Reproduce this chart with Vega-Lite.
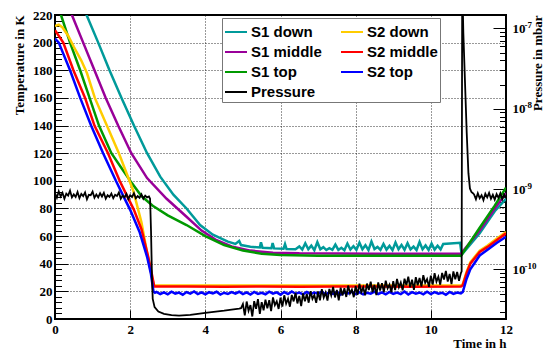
{
"$schema": "https://vega.github.io/schema/vega-lite/v6.json",
"width": 451, "height": 304,
"autosize": {"type": "none"},
"padding": {"left": 55, "top": 15, "right": 37, "bottom": 30},
"background": "white",
"config": {"view": {"stroke": "#000", "strokeWidth": 2}},
"datasets": {
"temp": [
{"s":"S1 down","t":0.70,"T":230},{"s":"S1 down","t":0.84,"T":220},{"s":"S1 down","t":1.15,"T":200},{"s":"S1 down","t":1.45,"T":180},{"s":"S1 down","t":1.77,"T":160},{"s":"S1 down","t":2.1,"T":140},{"s":"S1 down","t":2.45,"T":120},{"s":"S1 down","t":2.8,"T":103},{"s":"S1 down","t":3.15,"T":90},{"s":"S1 down","t":3.5,"T":80},{"s":"S1 down","t":3.86,"T":68},{"s":"S1 down","t":4.2,"T":61},{"s":"S1 down","t":4.6,"T":56},{"s":"S1 down","t":4.8,"T":54.3},{"s":"S1 down","t":4.9,"T":56.5},{"s":"S1 down","t":4.95,"T":53.5},{"s":"S1 down","t":5.2,"T":52.3},{"s":"S1 down","t":5.45,"T":51.8},{"s":"S1 down","t":5.48,"T":55.5},{"s":"S1 down","t":5.52,"T":51.6},{"s":"S1 down","t":5.76,"T":51.2},{"s":"S1 down","t":5.79,"T":55},{"s":"S1 down","t":5.83,"T":51.1},{"s":"S1 down","t":6.08,"T":50.8},{"s":"S1 down","t":6.12,"T":54.2},{"s":"S1 down","t":6.16,"T":50.7},{"s":"S1 down","t":6.4,"T":50.5},
{"s":"S1 down","t":6.50,"T":52.5},{"s":"S1 down","t":6.58,"T":50.2},{"s":"S1 down","t":6.66,"T":54.8},{"s":"S1 down","t":6.74,"T":50.5},{"s":"S1 down","t":6.82,"T":53.1},{"s":"S1 down","t":6.90,"T":49.8},{"s":"S1 down","t":6.98,"T":55.6},{"s":"S1 down","t":7.06,"T":50.4},{"s":"S1 down","t":7.14,"T":52.0},{"s":"S1 down","t":7.22,"T":49.9},{"s":"S1 down","t":7.30,"T":51.2},{"s":"S1 down","t":7.38,"T":50.1},{"s":"S1 down","t":7.46,"T":53.9},{"s":"S1 down","t":7.54,"T":50.0},{"s":"S1 down","t":7.62,"T":51.5},{"s":"S1 down","t":7.70,"T":49.8},{"s":"S1 down","t":7.78,"T":54.6},{"s":"S1 down","t":7.86,"T":50.3},{"s":"S1 down","t":7.94,"T":52.7},{"s":"S1 down","t":8.02,"T":50.0},{"s":"S1 down","t":8.10,"T":55.2},{"s":"S1 down","t":8.18,"T":50.4},{"s":"S1 down","t":8.26,"T":53.4},{"s":"S1 down","t":8.34,"T":49.9},{"s":"S1 down","t":8.42,"T":56.0},{"s":"S1 down","t":8.50,"T":50.6},{"s":"S1 down","t":8.58,"T":52.2},{"s":"S1 down","t":8.66,"T":50.0},{"s":"S1 down","t":8.74,"T":54.3},{"s":"S1 down","t":8.82,"T":50.2},{"s":"S1 down","t":8.90,"T":52.9},{"s":"S1 down","t":8.98,"T":49.8},{"s":"S1 down","t":9.06,"T":55.4},{"s":"S1 down","t":9.14,"T":50.5},{"s":"S1 down","t":9.22,"T":53.6},{"s":"S1 down","t":9.30,"T":50.1},{"s":"S1 down","t":9.38,"T":54.9},{"s":"S1 down","t":9.46,"T":50.3},{"s":"S1 down","t":9.54,"T":52.4},{"s":"S1 down","t":9.62,"T":49.9},{"s":"S1 down","t":9.70,"T":55.7},{"s":"S1 down","t":9.78,"T":50.4},{"s":"S1 down","t":9.86,"T":53.2},{"s":"S1 down","t":9.94,"T":50.0},{"s":"S1 down","t":10.02,"T":54.5},{"s":"S1 down","t":10.10,"T":50.2},{"s":"S1 down","t":10.18,"T":53.0},{"s":"S1 down","t":10.26,"T":50.4},{"s":"S1 down","t":10.33,"T":54.3},{"s":"S1 down","t":10.78,"T":55.2},{"s":"S1 down","t":10.82,"T":46.5},{"s":"S1 down","t":11.3,"T":62},{"s":"S1 down","t":11.7,"T":78},{"s":"S1 down","t":12,"T":87},
{"s":"S1 middle","t":0.35,"T":227},{"s":"S1 middle","t":0.45,"T":220},{"s":"S1 middle","t":0.75,"T":200},{"s":"S1 middle","t":1.05,"T":180},{"s":"S1 middle","t":1.35,"T":160},{"s":"S1 middle","t":1.68,"T":140},{"s":"S1 middle","t":2.03,"T":120},{"s":"S1 middle","t":2.45,"T":102},{"s":"S1 middle","t":2.97,"T":87},{"s":"S1 middle","t":3.5,"T":74},{"s":"S1 middle","t":3.9,"T":64},{"s":"S1 middle","t":4.3,"T":57},{"s":"S1 middle","t":4.7,"T":52.5},{"s":"S1 middle","t":5.2,"T":49.5},{"s":"S1 middle","t":5.8,"T":48},{"s":"S1 middle","t":6.5,"T":47.5},{"s":"S1 middle","t":8.5,"T":47.3},{"s":"S1 middle","t":10.8,"T":47.2},{"s":"S1 middle","t":11.3,"T":64},{"s":"S1 middle","t":11.7,"T":80},{"s":"S1 middle","t":12,"T":91},
{"s":"S1 top","t":0.05,"T":228},{"s":"S1 top","t":0.16,"T":220},{"s":"S1 top","t":0.4,"T":200},{"s":"S1 top","t":0.67,"T":180},{"s":"S1 top","t":0.92,"T":160},{"s":"S1 top","t":1.17,"T":140},{"s":"S1 top","t":1.5,"T":120},{"s":"S1 top","t":1.75,"T":110},{"s":"S1 top","t":2.0,"T":100},{"s":"S1 top","t":2.3,"T":89},{"s":"S1 top","t":2.6,"T":82},{"s":"S1 top","t":3.0,"T":75},{"s":"S1 top","t":3.5,"T":68},{"s":"S1 top","t":4.0,"T":60},{"s":"S1 top","t":4.5,"T":53.5},{"s":"S1 top","t":5.0,"T":49.5},{"s":"S1 top","t":5.5,"T":47.3},{"s":"S1 top","t":6.0,"T":46.3},{"s":"S1 top","t":7.0,"T":45.8},{"s":"S1 top","t":10.8,"T":45.7},{"s":"S1 top","t":11.3,"T":66},{"s":"S1 top","t":11.7,"T":82},{"s":"S1 top","t":12,"T":95},
{"s":"S2 down","t":0,"T":212},{"s":"S2 down","t":0.1,"T":213},{"s":"S2 down","t":0.2,"T":211},{"s":"S2 down","t":0.35,"T":205},{"s":"S2 down","t":0.5,"T":197},{"s":"S2 down","t":0.7,"T":187},{"s":"S2 down","t":0.85,"T":178},{"s":"S2 down","t":1.06,"T":160},{"s":"S2 down","t":1.38,"T":140},{"s":"S2 down","t":1.7,"T":120},{"s":"S2 down","t":2.08,"T":93},{"s":"S2 down","t":2.3,"T":70},{"s":"S2 down","t":2.47,"T":45},{"s":"S2 down","t":2.58,"T":30},{"s":"S2 down","t":2.64,"T":24.2},{"s":"S2 down","t":6,"T":24.3},{"s":"S2 down","t":10.8,"T":24.2},{"s":"S2 down","t":10.85,"T":25.2},{"s":"S2 down","t":10.95,"T":34},{"s":"S2 down","t":11.05,"T":41},{"s":"S2 down","t":11.3,"T":49.5},{"s":"S2 down","t":11.5,"T":53},{"s":"S2 down","t":11.75,"T":58},{"s":"S2 down","t":12,"T":63},
{"s":"S2 middle","t":0,"T":209},{"s":"S2 middle","t":0.22,"T":200},{"s":"S2 middle","t":0.49,"T":180},{"s":"S2 middle","t":0.8,"T":160},{"s":"S2 middle","t":1.05,"T":140},{"s":"S2 middle","t":1.41,"T":120},{"s":"S2 middle","t":1.72,"T":100},{"s":"S2 middle","t":1.9,"T":90},{"s":"S2 middle","t":2.1,"T":79},{"s":"S2 middle","t":2.3,"T":65},{"s":"S2 middle","t":2.48,"T":45},{"s":"S2 middle","t":2.58,"T":32},{"s":"S2 middle","t":2.64,"T":23.5},{"s":"S2 middle","t":3.5,"T":23.6},{"s":"S2 middle","t":4.5,"T":23.4},{"s":"S2 middle","t":5.5,"T":23.6},{"s":"S2 middle","t":6.5,"T":23.4},{"s":"S2 middle","t":7.5,"T":23.5},{"s":"S2 middle","t":8.5,"T":23.6},{"s":"S2 middle","t":9.5,"T":23.4},{"s":"S2 middle","t":10.8,"T":23.5},{"s":"S2 middle","t":10.85,"T":24.5},{"s":"S2 middle","t":10.95,"T":33},{"s":"S2 middle","t":11.05,"T":40},{"s":"S2 middle","t":11.3,"T":48.5},{"s":"S2 middle","t":11.5,"T":52},{"s":"S2 middle","t":11.75,"T":57},{"s":"S2 middle","t":12,"T":62},
{"s":"S2 top","t":0,"T":203},{"s":"S2 top","t":0.1,"T":200},{"s":"S2 top","t":0.4,"T":180},{"s":"S2 top","t":0.67,"T":160},{"s":"S2 top","t":0.96,"T":140},{"s":"S2 top","t":1.28,"T":120},{"s":"S2 top","t":1.62,"T":100},{"s":"S2 top","t":1.8,"T":90},{"s":"S2 top","t":2.0,"T":79},{"s":"S2 top","t":2.25,"T":63},{"s":"S2 top","t":2.45,"T":45},{"s":"S2 top","t":2.55,"T":33},{"s":"S2 top","t":2.62,"T":20},{"s":"S2 top","t":2.66,"T":19},
{"s":"S2 top","t":2.7,"T":19.6},{"s":"S2 top","t":2.8,"T":18.1},{"s":"S2 top","t":2.9,"T":19.3},{"s":"S2 top","t":3.0,"T":17.9},{"s":"S2 top","t":3.1,"T":19.8},{"s":"S2 top","t":3.2,"T":18.4},{"s":"S2 top","t":3.3,"T":19.1},{"s":"S2 top","t":3.4,"T":17.6},{"s":"S2 top","t":3.5,"T":19.5},{"s":"S2 top","t":3.6,"T":18.3},{"s":"S2 top","t":3.7,"T":19.9},{"s":"S2 top","t":3.8,"T":18.0},{"s":"S2 top","t":3.9,"T":19.2},{"s":"S2 top","t":4.0,"T":17.8},{"s":"S2 top","t":4.1,"T":19.4},{"s":"S2 top","t":4.2,"T":18.5},{"s":"S2 top","t":4.3,"T":19.7},{"s":"S2 top","t":4.4,"T":17.7},{"s":"S2 top","t":4.5,"T":19.0},{"s":"S2 top","t":4.6,"T":18.2},
{"s":"S2 top","t":4.7,"T":19.4},{"s":"S2 top","t":4.8,"T":18.3},{"s":"S2 top","t":4.9,"T":19.7},{"s":"S2 top","t":5.0,"T":18.0},{"s":"S2 top","t":5.1,"T":19.2},{"s":"S2 top","t":5.2,"T":17.7},{"s":"S2 top","t":5.3,"T":19.6},{"s":"S2 top","t":5.4,"T":18.2},{"s":"S2 top","t":5.5,"T":19.0},{"s":"S2 top","t":5.6,"T":17.9},{"s":"S2 top","t":5.7,"T":19.8},{"s":"S2 top","t":5.8,"T":18.4},{"s":"S2 top","t":5.9,"T":19.3},{"s":"S2 top","t":6.0,"T":17.6},{"s":"S2 top","t":6.1,"T":19.5},{"s":"S2 top","t":6.2,"T":18.1},{"s":"S2 top","t":6.3,"T":19.9},{"s":"S2 top","t":6.4,"T":18.3},{"s":"S2 top","t":6.5,"T":19.1},{"s":"S2 top","t":6.6,"T":17.8},
{"s":"S2 top","t":6.7,"T":19.5},{"s":"S2 top","t":6.8,"T":18.0},{"s":"S2 top","t":6.9,"T":19.2},{"s":"S2 top","t":7.0,"T":18.4},{"s":"S2 top","t":7.1,"T":19.8},{"s":"S2 top","t":7.2,"T":17.8},{"s":"S2 top","t":7.3,"T":19.3},{"s":"S2 top","t":7.4,"T":18.2},{"s":"S2 top","t":7.5,"T":19.6},{"s":"S2 top","t":7.6,"T":17.7},{"s":"S2 top","t":7.7,"T":19.1},{"s":"S2 top","t":7.8,"T":18.5},{"s":"S2 top","t":7.9,"T":19.7},{"s":"S2 top","t":8.0,"T":18.0},{"s":"S2 top","t":8.1,"T":19.4},{"s":"S2 top","t":8.2,"T":17.9},{"s":"S2 top","t":8.3,"T":19.0},{"s":"S2 top","t":8.4,"T":18.3},{"s":"S2 top","t":8.5,"T":19.8},{"s":"S2 top","t":8.6,"T":18.1},
{"s":"S2 top","t":8.7,"T":19.3},{"s":"S2 top","t":8.8,"T":17.8},{"s":"S2 top","t":8.9,"T":19.6},{"s":"S2 top","t":9.0,"T":18.2},{"s":"S2 top","t":9.1,"T":19.1},{"s":"S2 top","t":9.2,"T":18.0},{"s":"S2 top","t":9.3,"T":19.9},{"s":"S2 top","t":9.4,"T":17.7},{"s":"S2 top","t":9.5,"T":19.4},{"s":"S2 top","t":9.6,"T":18.4},{"s":"S2 top","t":9.7,"T":19.2},{"s":"S2 top","t":9.8,"T":17.9},{"s":"S2 top","t":9.9,"T":19.7},{"s":"S2 top","t":10.0,"T":18.1},{"s":"S2 top","t":10.1,"T":19.5},{"s":"S2 top","t":10.2,"T":18.3},{"s":"S2 top","t":10.3,"T":19.0},{"s":"S2 top","t":10.4,"T":17.6},{"s":"S2 top","t":10.5,"T":19.6},{"s":"S2 top","t":10.6,"T":18.2},{"s":"S2 top","t":10.7,"T":19.2},{"s":"S2 top","t":10.8,"T":18.6},
{"s":"S2 top","t":10.85,"T":19.5},{"s":"S2 top","t":10.95,"T":29},{"s":"S2 top","t":11.05,"T":36},{"s":"S2 top","t":11.3,"T":46},{"s":"S2 top","t":11.5,"T":50},{"s":"S2 top","t":11.75,"T":55},{"s":"S2 top","t":12,"T":59.5}
],
"pres": [
{"s":"Pressure","t":0.00,"p":8.9e-10},{"s":"Pressure","t":0.05,"p":7.8e-10},{"s":"Pressure","t":0.10,"p":9.4e-10},{"s":"Pressure","t":0.15,"p":8.1e-10},{"s":"Pressure","t":0.20,"p":9.0e-10},{"s":"Pressure","t":0.25,"p":7.6e-10},{"s":"Pressure","t":0.30,"p":8.8e-10},{"s":"Pressure","t":0.35,"p":8.3e-10},{"s":"Pressure","t":0.40,"p":9.6e-10},{"s":"Pressure","t":0.45,"p":7.9e-10},{"s":"Pressure","t":0.50,"p":8.6e-10},{"s":"Pressure","t":0.55,"p":8.0e-10},{"s":"Pressure","t":0.60,"p":9.2e-10},{"s":"Pressure","t":0.65,"p":7.7e-10},{"s":"Pressure","t":0.70,"p":8.7e-10},{"s":"Pressure","t":0.75,"p":8.2e-10},{"s":"Pressure","t":0.80,"p":9.1e-10},{"s":"Pressure","t":0.85,"p":7.5e-10},{"s":"Pressure","t":0.90,"p":8.5e-10},{"s":"Pressure","t":0.95,"p":8.4e-10},{"s":"Pressure","t":1.00,"p":9.3e-10},{"s":"Pressure","t":1.05,"p":7.8e-10},{"s":"Pressure","t":1.10,"p":8.6e-10},{"s":"Pressure","t":1.15,"p":7.9e-10},{"s":"Pressure","t":1.20,"p":8.9e-10},{"s":"Pressure","t":1.25,"p":8.1e-10},{"s":"Pressure","t":1.30,"p":9.0e-10},{"s":"Pressure","t":1.35,"p":7.6e-10},{"s":"Pressure","t":1.40,"p":8.4e-10},{"s":"Pressure","t":1.45,"p":8.0e-10},{"s":"Pressure","t":1.50,"p":8.8e-10},{"s":"Pressure","t":1.55,"p":7.7e-10},{"s":"Pressure","t":1.60,"p":8.5e-10},{"s":"Pressure","t":1.65,"p":8.2e-10},{"s":"Pressure","t":1.70,"p":9.1e-10},{"s":"Pressure","t":1.75,"p":7.6e-10},{"s":"Pressure","t":1.80,"p":8.3e-10},{"s":"Pressure","t":1.85,"p":7.9e-10},{"s":"Pressure","t":1.90,"p":8.7e-10},{"s":"Pressure","t":1.95,"p":7.5e-10},{"s":"Pressure","t":2.00,"p":8.4e-10},{"s":"Pressure","t":2.05,"p":8.0e-10},{"s":"Pressure","t":2.10,"p":8.9e-10},{"s":"Pressure","t":2.15,"p":7.7e-10},{"s":"Pressure","t":2.20,"p":8.2e-10},{"s":"Pressure","t":2.25,"p":7.8e-10},{"s":"Pressure","t":2.30,"p":8.6e-10},{"s":"Pressure","t":2.35,"p":7.6e-10},{"s":"Pressure","t":2.40,"p":8.3e-10},{"s":"Pressure","t":2.45,"p":7.9e-10},{"s":"Pressure","t":2.50,"p":8.1e-10},
{"s":"Pressure","t":2.53,"p":7.6e-10},{"s":"Pressure","t":2.555,"p":3.0e-10},{"s":"Pressure","t":2.58,"p":8.0e-11},{"s":"Pressure","t":2.60,"p":4.3e-11},{"s":"Pressure","t":2.65,"p":3.4e-11},{"s":"Pressure","t":2.75,"p":3.0e-11},{"s":"Pressure","t":2.9,"p":2.8e-11},{"s":"Pressure","t":3.1,"p":2.7e-11},{"s":"Pressure","t":3.3,"p":2.67e-11},{"s":"Pressure","t":3.6,"p":2.72e-11},{"s":"Pressure","t":4.0,"p":2.89e-11},{"s":"Pressure","t":4.5,"p":3.07e-11},{"s":"Pressure","t":4.9,"p":3.26e-11},
{"s":"Pressure","t":4.95,"p":3.30e-11},{"s":"Pressure","t":5.00,"p":3.72e-11},{"s":"Pressure","t":5.05,"p":2.68e-11},{"s":"Pressure","t":5.10,"p":3.99e-11},{"s":"Pressure","t":5.15,"p":3.07e-11},{"s":"Pressure","t":5.20,"p":3.61e-11},{"s":"Pressure","t":5.25,"p":2.60e-11},{"s":"Pressure","t":5.30,"p":4.03e-11},{"s":"Pressure","t":5.35,"p":3.25e-11},{"s":"Pressure","t":5.40,"p":4.27e-11},{"s":"Pressure","t":5.45,"p":2.81e-11},{"s":"Pressure","t":5.50,"p":3.92e-11},{"s":"Pressure","t":5.55,"p":3.11e-11},{"s":"Pressure","t":5.60,"p":4.22e-11},{"s":"Pressure","t":5.65,"p":3.28e-11},{"s":"Pressure","t":5.70,"p":4.15e-11},{"s":"Pressure","t":5.75,"p":3.04e-11},{"s":"Pressure","t":5.80,"p":4.49e-11},{"s":"Pressure","t":5.85,"p":3.60e-11},{"s":"Pressure","t":5.90,"p":4.02e-11},{"s":"Pressure","t":5.95,"p":3.23e-11},{"s":"Pressure","t":6.00,"p":4.45e-11},{"s":"Pressure","t":6.05,"p":3.45e-11},{"s":"Pressure","t":6.10,"p":4.77e-11},{"s":"Pressure","t":6.15,"p":3.75e-11},{"s":"Pressure","t":6.20,"p":4.32e-11},{"s":"Pressure","t":6.25,"p":3.44e-11},{"s":"Pressure","t":6.30,"p":4.82e-11},{"s":"Pressure","t":6.35,"p":4.01e-11},{"s":"Pressure","t":6.40,"p":5.11e-11},{"s":"Pressure","t":6.45,"p":3.78e-11},{"s":"Pressure","t":6.50,"p":4.69e-11},{"s":"Pressure","t":6.55,"p":3.50e-11},{"s":"Pressure","t":6.60,"p":5.04e-11},{"s":"Pressure","t":6.65,"p":4.01e-11},{"s":"Pressure","t":6.70,"p":4.95e-11},{"s":"Pressure","t":6.75,"p":3.86e-11},{"s":"Pressure","t":6.80,"p":5.36e-11},{"s":"Pressure","t":6.85,"p":4.30e-11},{"s":"Pressure","t":6.90,"p":4.80e-11},{"s":"Pressure","t":6.95,"p":3.85e-11},{"s":"Pressure","t":7.00,"p":5.32e-11},{"s":"Pressure","t":7.05,"p":4.12e-11},{"s":"Pressure","t":7.10,"p":5.70e-11},{"s":"Pressure","t":7.15,"p":4.48e-11},{"s":"Pressure","t":7.20,"p":5.16e-11},{"s":"Pressure","t":7.25,"p":4.11e-11},{"s":"Pressure","t":7.30,"p":5.73e-11},{"s":"Pressure","t":7.35,"p":4.77e-11},{"s":"Pressure","t":7.40,"p":6.07e-11},{"s":"Pressure","t":7.45,"p":4.49e-11},{"s":"Pressure","t":7.50,"p":5.55e-11},{"s":"Pressure","t":7.55,"p":4.14e-11},{"s":"Pressure","t":7.60,"p":5.95e-11},{"s":"Pressure","t":7.65,"p":4.74e-11},{"s":"Pressure","t":7.70,"p":5.84e-11},{"s":"Pressure","t":7.75,"p":4.55e-11},{"s":"Pressure","t":7.80,"p":6.31e-11},{"s":"Pressure","t":7.85,"p":5.05e-11},{"s":"Pressure","t":7.90,"p":5.63e-11},{"s":"Pressure","t":7.95,"p":4.52e-11},{"s":"Pressure","t":8.00,"p":6.23e-11},{"s":"Pressure","t":8.05,"p":4.82e-11},{"s":"Pressure","t":8.10,"p":6.66e-11},{"s":"Pressure","t":8.15,"p":5.23e-11},{"s":"Pressure","t":8.20,"p":6.01e-11},{"s":"Pressure","t":8.25,"p":4.78e-11},{"s":"Pressure","t":8.30,"p":6.67e-11},{"s":"Pressure","t":8.35,"p":5.55e-11},{"s":"Pressure","t":8.40,"p":7.06e-11},{"s":"Pressure","t":8.45,"p":5.21e-11},{"s":"Pressure","t":8.50,"p":6.44e-11},{"s":"Pressure","t":8.55,"p":4.80e-11},{"s":"Pressure","t":8.60,"p":6.89e-11},{"s":"Pressure","t":8.65,"p":5.47e-11},{"s":"Pressure","t":8.70,"p":6.74e-11},{"s":"Pressure","t":8.75,"p":5.24e-11},{"s":"Pressure","t":8.80,"p":7.27e-11},{"s":"Pressure","t":8.85,"p":5.81e-11},{"s":"Pressure","t":8.90,"p":6.48e-11},{"s":"Pressure","t":8.95,"p":5.20e-11},{"s":"Pressure","t":9.00,"p":7.15e-11},{"s":"Pressure","t":9.05,"p":5.53e-11},{"s":"Pressure","t":9.10,"p":7.65e-11},{"s":"Pressure","t":9.15,"p":6.01e-11},{"s":"Pressure","t":9.20,"p":6.90e-11},{"s":"Pressure","t":9.25,"p":5.49e-11},{"s":"Pressure","t":9.30,"p":7.67e-11},{"s":"Pressure","t":9.35,"p":6.38e-11},{"s":"Pressure","t":9.40,"p":8.12e-11},{"s":"Pressure","t":9.45,"p":6.00e-11},{"s":"Pressure","t":9.50,"p":7.47e-11},{"s":"Pressure","t":9.55,"p":5.58e-11},{"s":"Pressure","t":9.60,"p":8.01e-11},{"s":"Pressure","t":9.65,"p":6.37e-11},{"s":"Pressure","t":9.70,"p":7.85e-11},{"s":"Pressure","t":9.75,"p":6.12e-11},{"s":"Pressure","t":9.80,"p":8.48e-11},{"s":"Pressure","t":9.85,"p":6.80e-11},{"s":"Pressure","t":9.90,"p":7.59e-11},{"s":"Pressure","t":9.95,"p":6.08e-11},{"s":"Pressure","t":10.00,"p":8.38e-11},{"s":"Pressure","t":10.05,"p":6.48e-11},{"s":"Pressure","t":10.10,"p":8.98e-11},{"s":"Pressure","t":10.15,"p":7.06e-11},{"s":"Pressure","t":10.20,"p":8.12e-11},{"s":"Pressure","t":10.25,"p":6.47e-11},{"s":"Pressure","t":10.30,"p":9.04e-11},{"s":"Pressure","t":10.35,"p":7.52e-11},{"s":"Pressure","t":10.40,"p":9.58e-11},{"s":"Pressure","t":10.45,"p":7.08e-11},{"s":"Pressure","t":10.50,"p":8.82e-11},{"s":"Pressure","t":10.55,"p":6.59e-11},{"s":"Pressure","t":10.60,"p":9.47e-11},{"s":"Pressure","t":10.65,"p":7.54e-11},{"s":"Pressure","t":10.70,"p":9.30e-11},{"s":"Pressure","t":10.75,"p":7.24e-11},{"s":"Pressure","t":10.80,"p":9.03e-11},
{"s":"Pressure","t":10.82,"p":9.5e-11},{"s":"Pressure","t":10.835,"p":4.0e-7},{"s":"Pressure","t":10.865,"p":8.8e-8},{"s":"Pressure","t":10.91,"p":2.08e-8},{"s":"Pressure","t":10.955,"p":5.0e-9},{"s":"Pressure","t":11.0,"p":1.58e-9},{"s":"Pressure","t":11.04,"p":1.02e-9},{"s":"Pressure","t":11.08,"p":9.2e-10},{"s":"Pressure","t":11.12,"p":8.9e-10},
{"s":"Pressure","t":11.15,"p":8.6e-10},{"s":"Pressure","t":11.20,"p":7.5e-10},{"s":"Pressure","t":11.25,"p":8.9e-10},{"s":"Pressure","t":11.30,"p":7.7e-10},{"s":"Pressure","t":11.35,"p":8.4e-10},{"s":"Pressure","t":11.40,"p":7.3e-10},{"s":"Pressure","t":11.45,"p":8.8e-10},{"s":"Pressure","t":11.50,"p":7.9e-10},{"s":"Pressure","t":11.55,"p":9.0e-10},{"s":"Pressure","t":11.60,"p":7.6e-10},{"s":"Pressure","t":11.65,"p":8.5e-10},{"s":"Pressure","t":11.70,"p":7.4e-10},{"s":"Pressure","t":11.75,"p":8.7e-10},{"s":"Pressure","t":11.80,"p":7.8e-10},{"s":"Pressure","t":11.85,"p":8.9e-10},{"s":"Pressure","t":11.90,"p":7.5e-10},{"s":"Pressure","t":11.95,"p":8.6e-10},{"s":"Pressure","t":12.00,"p":7.9e-10}
]
},
"layer": [
{
"data": {"name": "temp"},
"mark": {"type": "line", "clip": true, "strokeWidth": 2.5},
"encoding": {
"x": {"field": "t", "type": "quantitative", "scale": {"domain": [0, 12], "nice": false, "zero": false},
 "axis": {"values": [0,0.5,1,1.5,2,2.5,3,3.5,4,4.5,5,5.5,6,6.5,7,7.5,8,8.5,9,9.5,10,10.5,11,11.5,12],
  "labelExpr": "datum.value % 2 == 0 ? datum.label : ''",
  "labelOverlap": false, "labelBound": false, "labelFlush": false,
  "tickSize": {"condition": {"test": "datum.value % 2 == 0", "value": -9}, "value": -4.5},
  "tickColor": "#000", "tickWidth": 1, "domain": false,
  "grid": true, "gridColor": "#000", "gridDash": [1, 2], "gridWidth": 1,
  "gridOpacity": {"condition": {"test": "datum.value % 2 == 0 && datum.value > 0 && datum.value < 12", "value": 0.8}, "value": 0},
  "labelFont": "Liberation Serif", "labelFontWeight": "bold", "labelFontSize": 13, "labelColor": "#000", "labelPadding": 13,
  "title": "Time in h", "titleFont": "Liberation Serif", "titleFontWeight": "bold", "titleFontSize": 13, "titleColor": "#000",
  "titleX": 451, "titleY": 24, "titleAlign": "right", "titleBaseline": "middle", "titleAnchor": "end"}},
"y": {"field": "T", "type": "quantitative", "scale": {"domain": [0, 220], "nice": false, "zero": false},
 "axis": {"values": [0,4,8,12,16,20,24,28,32,36,40,44,48,52,56,60,64,68,72,76,80,84,88,92,96,100,104,108,112,116,120,124,128,132,136,140,144,148,152,156,160,164,168,172,176,180,184,188,192,196,200,204,208,212,216,220],
  "labelExpr": "datum.value % 20 == 0 ? datum.label : ''",
  "labelOverlap": false, "labelBound": false, "labelFlush": false,
  "tickSize": {"condition": {"test": "datum.value % 20 == 0", "value": -13}, "value": -6.5},
  "tickColor": "#000", "tickWidth": 1, "domain": false,
  "grid": true, "gridColor": "#000", "gridDash": [1, 2], "gridWidth": 1,
  "gridOpacity": {"condition": {"test": "datum.value % 20 == 0 && datum.value > 0 && datum.value < 220", "value": 0.8}, "value": 0},
  "labelFont": "Liberation Serif", "labelFontWeight": "bold", "labelFontSize": 13, "labelColor": "#000", "labelPadding": 16,
  "title": "Temperature in K", "titleFont": "Liberation Serif", "titleFontWeight": "bold", "titleFontSize": 13, "titleColor": "#000",
  "titleAngle": 270, "titleX": -36, "titleY": 0, "titleAlign": "right", "titleBaseline": "middle"}},
"color": {"field": "s", "type": "nominal",
 "scale": {"domain": ["S1 down","S1 middle","S1 top","Pressure","S2 down","S2 middle","S2 top"],
           "range": ["#009a9a","#990099","#009900","#000000","#ffcc00","#ff0000","#0000ff"]},
 "legend": {"title": null, "orient": "none", "legendX": 167, "legendY": 3, "columns": 2,
  "symbolType": "stroke", "symbolSize": 484, "symbolStrokeWidth": 2,
  "labelFont": "Liberation Sans", "labelFontWeight": "bold", "labelFontSize": 15, "labelColor": "#000", "labelOffset": 3, "labelLimit": 200,
  "rowPadding": -2, "columnPadding": 15, "padding": 2,
  "strokeColor": "#777", "fillColor": "#fff"}}
}
},
{
"data": {"name": "pres"},
"mark": {"type": "line", "clip": true, "strokeWidth": 1.8},
"encoding": {
"x": {"field": "t", "type": "quantitative"},
"y": {"field": "p", "type": "quantitative", "scale": {"type": "log", "domain": [2.42e-11, 1.47e-7], "nice": false},
 "axis": {"orient": "right",
  "values": [3e-11,4e-11,5e-11,6e-11,7e-11,8e-11,9e-11,1e-10,2e-10,3e-10,4e-10,5e-10,6e-10,7e-10,8e-10,9e-10,1e-9,2e-9,3e-9,4e-9,5e-9,6e-9,7e-9,8e-9,9e-9,1e-8,2e-8,3e-8,4e-8,5e-8,6e-8,7e-8,8e-8,9e-8,1e-7],
  "labelExpr": "abs(log(datum.value)/LN10 - round(log(datum.value)/LN10)) < 0.01 ? '10' : ''",
  "labelOverlap": false, "labelBound": false, "labelFlush": false,
  "tickSize": {"condition": {"test": "abs(log(datum.value)/LN10 - round(log(datum.value)/LN10)) < 0.01", "value": -13}, "value": -6.5},
  "tickColor": "#000", "tickWidth": 1, "domain": false, "grid": false,
  "labelFont": "Liberation Serif", "labelFontWeight": "bold", "labelFontSize": 13, "labelColor": "#000", "labelPadding": 19,
  "title": "Pressure in mbar", "titleFont": "Liberation Serif", "titleFontWeight": "bold", "titleFontSize": 13, "titleColor": "#000",
  "titleAngle": 270, "titleX": 31, "titleY": 0, "titleAlign": "right", "titleBaseline": "middle"}},
"color": {"field": "s", "type": "nominal"}
}
},
{
"data": {"name": "pres"},
"mark": {"type": "line", "opacity": 0},
"encoding": {
"x": {"field": "t", "type": "quantitative"},
"y": {"field": "p", "type": "quantitative", "scale": {"type": "log", "domain": [2.42e-11, 1.47e-7], "nice": false},
 "axis": {"orient": "right", "values": [1e-10, 1e-9, 1e-8, 1e-7],
  "labelExpr": "'-' + format(-round(log(datum.value)/LN10), 'd')",
  "labelOverlap": false, "labelBound": false, "labelFlush": false,
  "ticks": false, "domain": false, "grid": false, "title": null,
  "labelFont": "Liberation Serif", "labelFontWeight": "bold", "labelFontSize": 9, "labelColor": "#000",
  "labelPadding": 18, "labelBaseline": "middle", "labelOffset": -4}}
}
}
],
"resolve": {"scale": {"y": "independent"}}
}
